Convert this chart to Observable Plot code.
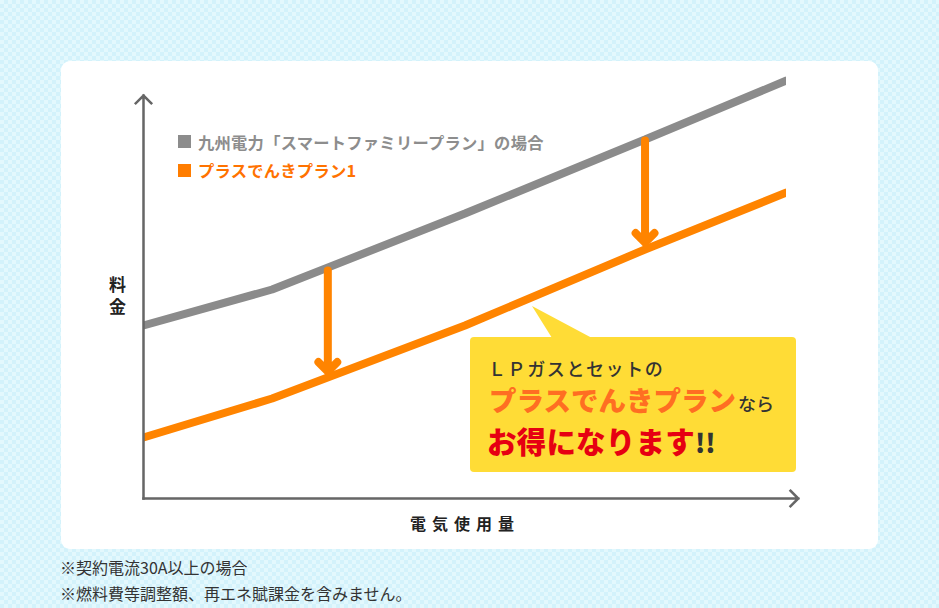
<!DOCTYPE html>
<html><head><meta charset="utf-8">
<script src="https://cdn.jsdelivr.net/npm/d3@7"></script>
<script src="https://cdn.jsdelivr.net/npm/@observablehq/plot@0.6"></script>
<style>
html,body{margin:0;padding:0;}
body{width:939px;height:608px;overflow:hidden;position:relative;
  font-family:"Noto Sans CJK JP","Noto Sans",sans-serif;
  background-color:#e3f8fd;
  background-image:repeating-conic-gradient(#d3f2fb 0 25%, transparent 0 50%);
  background-size:8px 8px;}
#panel{position:absolute;left:61px;top:61px;width:817px;height:488px;background:#fff;border-radius:9px;}
#chart{position:absolute;left:0;top:0;}
.abs{position:absolute;white-space:nowrap;}
.sw{position:absolute;width:13px;height:13px;}
.leg{font-size:16.3px;line-height:16px;font-weight:700;letter-spacing:0.25px;}
#ptr{position:absolute;left:532px;top:306px;width:60px;height:33px;background:#ffdc36;clip-path:polygon(0 0,33.3% 97%,100% 97%);}
#box{position:absolute;left:470px;top:337px;width:326px;height:135px;background:#ffdc36;border-radius:4px;}
.dark{color:#333;}
.note{font-size:16px;line-height:16px;color:#333;left:60px;letter-spacing:0px;}
.ib{display:inline-block;vertical-align:baseline;}
</style></head>
<body>
<div id="panel"></div>
<div id="chart"></div>
<div class="sw" style="left:178px;top:135px;background:#8c8c8c"></div>
<div class="abs leg" style="left:198px;top:133.5px;color:#8d8d8d">九州電力「スマートファミリープラン」の場合</div>
<div class="sw" style="left:178px;top:164px;background:#ff7d00"></div>
<div class="abs leg" style="left:198px;top:162px;color:#ff7200">プラスでんきプラン1</div>
<div class="abs" style="left:106px;top:276px;width:22px;writing-mode:vertical-rl;font-size:17px;line-height:22px;letter-spacing:5px;font-weight:700;color:#222">料金</div>
<div class="abs" style="left:410px;top:515px;font-size:16px;line-height:16px;font-weight:700;letter-spacing:6px;color:#222">電気使用量</div>
<div id="ptr"></div>
<div id="box"></div>
<div class="abs dark" style="left:488px;top:359px;font-size:18px;line-height:18px;font-weight:500;letter-spacing:1.6px">ＬＰガスとセットの</div>
<div class="abs" style="left:489px;top:385.5px;line-height:26px;height:26px"><span class="ib" style="font-size:27.5px;line-height:26px;font-weight:900;color:#ff6e22;letter-spacing:0px">プラスでんきプラン</span><span class="ib dark" style="font-size:18px;line-height:18px;font-weight:500;margin-left:2px">なら</span></div>
<div class="abs" style="left:487px;top:426px;line-height:28px;height:28px"><span class="ib" style="font-size:29.5px;line-height:28px;font-weight:900;color:#e60012;letter-spacing:0.2px">お得になります</span><span class="ib dark" style="font-size:26px;line-height:26px;font-weight:900">!!</span></div>
<div class="abs note" style="top:559px">※契約電流30A以上の場合</div>
<div class="abs note" style="top:585px">※燃料費等調整額、再エネ賦課金を含みません。</div>
<script>
// 電気使用量 (kWh) and 料金 (円)
const usage = [0, 120, 300, 468, 600];
const kyushuFee = [6920, 8360, 11400, 14360, 16720];
const plusFee = [2440, 4000, 6920, 9960, 12240];
// difference arrows
const arrowUsage = [172, 468];
const arrowFrom = [9120, 14320];
const arrowTo = [5080, 10240];
// axis extents
const xAxisEnd = 611;
const yAxisEnd = 16120;

const grayRows = usage.map((u, i) => ({usage: u, fee: kyushuFee[i]}));
const orangeRows = usage.map((u, i) => ({usage: u, fee: plusFee[i]}));
const arrowRows = arrowUsage.map((u, i) => ({usage: u, from: arrowFrom[i], to: arrowTo[i]}));
const axisRows = [
  {x1: 0, y1: 0, x2: xAxisEnd, y2: 0},
  {x1: 0, y1: 0, x2: 0, y2: yAxisEnd}
];

const plot = Plot.plot({
  width: 939, height: 608,
  marginLeft: 143, marginRight: 153, marginTop: 60, marginBottom: 110,
  x: {domain: [0, 600], axis: null},
  y: {domain: [0, 17520], axis: null},
  style: {background: "transparent", overflow: "visible"},
  marks: [
    Plot.line(grayRows, {x: "usage", y: "fee", stroke: "#8b8b8b", strokeWidth: 8, clip: "frame", strokeLinejoin: "miter"}),
    Plot.line(orangeRows, {x: "usage", y: "fee", stroke: "#ff8400", strokeWidth: 8, clip: "frame", strokeLinejoin: "miter"}),
    Plot.arrow(arrowRows, {x1: "usage", x2: "usage", y1: "from", y2: "to", stroke: "#ff8400", strokeWidth: 8, headAngle: 90, headLength: 2.5, strokeMiterlimit: 10, strokeLinejoin: "miter"}),
    Plot.arrow(axisRows, {x1: "x1", y1: "y1", x2: "x2", y2: "y2", stroke: "#666", strokeWidth: 2.5, headAngle: 90, headLength: 6.6, strokeMiterlimit: 10, strokeLinejoin: "miter", strokeLinecap: "square"})
  ]
});
document.getElementById("chart").appendChild(plot);
</script>
</body></html>
